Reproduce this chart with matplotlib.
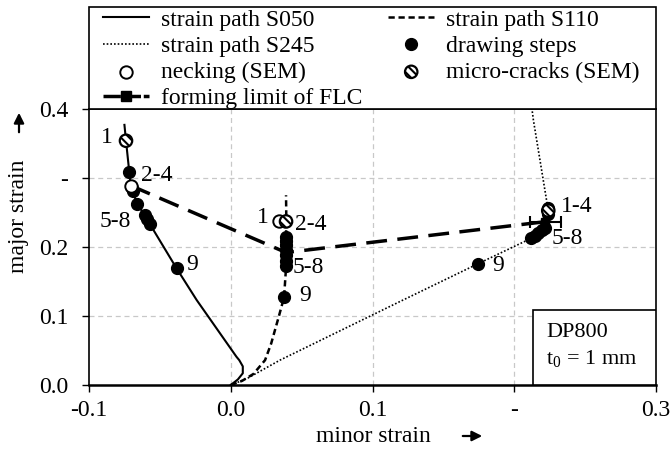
import numpy as np
import matplotlib
matplotlib.use('Agg')
import matplotlib.pyplot as plt
from matplotlib.patches import Rectangle
from matplotlib.lines import Line2D

plt.rcParams['font.family'] = ['Liberation Serif', 'DejaVu Serif']
plt.rcParams['hatch.linewidth'] = 1.5
plt.rcParams['mathtext.fontset'] = 'custom'
plt.rcParams['mathtext.rm'] = 'Liberation Serif'

# strain paths (minor, major)
s050_x = [0.0, 0.005, 0.0085, 0.0085, 0.006, 0.004, -0.024, -0.0382, -0.057, -0.0605, -0.066, -0.069, -0.0706, -0.0716, -0.0739, -0.075]
s050_y = [0.0, 0.008, 0.017, 0.027, 0.036, 0.041, 0.123, 0.169, 0.233, 0.246, 0.262, 0.280, 0.288, 0.309, 0.354, 0.377]
s110_x = [0.0, 0.008, 0.016, 0.0242, 0.0285, 0.0336, 0.0376, 0.039, 0.039, 0.0392, 0.039]
s110_y = [0.0, 0.006, 0.016, 0.036, 0.060, 0.097, 0.127, 0.170, 0.215, 0.240, 0.275]
s245_x = [0.0, 0.005, 0.012, 0.0347, 0.1194, 0.1747, 0.212, 0.224, 0.224, 0.2135, 0.2125]
s245_y = [0.0, 0.004, 0.010, 0.036, 0.121, 0.176, 0.2126, 0.232, 0.2527, 0.384, 0.400]

# drawing steps (filled)
steps_x = [-0.0382, -0.057, -0.059, -0.0605, -0.066, -0.069, -0.070, -0.0716,
           0.0376, 0.039, 0.039, 0.039, 0.039, 0.039, 0.039, 0.039,
           0.1747, 0.212, 0.2145, 0.217, 0.2195, 0.2217, 0.224, 0.224]
steps_y = [0.169, 0.234, 0.240, 0.246, 0.262, 0.281, 0.285, 0.309,
           0.127, 0.172, 0.180, 0.188, 0.196, 0.203, 0.208, 0.215,
           0.176, 0.2126, 0.216, 0.220, 0.224, 0.227, 0.248, 0.257]
# necking (SEM)
neck_x = [-0.0706, 0.034]
neck_y = [0.289, 0.237]
# micro-cracks (SEM)
crack_x = [-0.0739, 0.039, 0.224]
crack_y = [0.354, 0.237, 0.2527]
# forming limit
flc_x = [-0.0706, 0.039, 0.222]
flc_y = [0.289, 0.192, 0.2367]
flc_xerr = [0.0, 0.0, 0.011]

# step labels
lab_txt = ['1', '2-4', '5-8', '9', '1', '2-4', '5-8', '9', '1-4', '5-8', '9']
lab_x = [-0.0876, -0.0522, -0.0817, -0.0276, 0.023, 0.0566, 0.0547, 0.0524, 0.244, 0.2374, 0.1888]
lab_y = [0.358, 0.304, 0.237, 0.174, 0.243, 0.232, 0.171, 0.130, 0.259, 0.2126, 0.1725]

fs = 17
fig = plt.figure(figsize=(6.71, 4.54), dpi=100)
ax = fig.add_axes([89/671, 1-385/454, 567/671, 276/454])

l1, = ax.plot(s050_x, s050_y, color='black', lw=1.5, zorder=2)
l2, = ax.plot(s110_x, s110_y, color='black', lw=1.8, ls=(0, (2.5, 1.5)), zorder=2)
l3, = ax.plot(s245_x, s245_y, color='black', lw=1.2, ls=(0, (1, 1.2)), zorder=2)

ax.errorbar(flc_x, flc_y, xerr=flc_xerr, color='black', lw=2.5, ls=(0, (6, 3)),
            marker='s', ms=6, capsize=4, elinewidth=1.5, capthick=1.5, zorder=3)
l4 = Line2D([], [], color='black', lw=2.5, ls=(0, (5, 0.8)), marker='s', ms=7)

l5, = ax.plot(steps_x, steps_y, 'o', color='black', ms=8.5, ls='none', zorder=4)
l6 = ax.scatter(neck_x, neck_y, s=80, facecolor='white', edgecolor='black', lw=1.4, zorder=5)
l7 = ax.scatter(crack_x, crack_y, s=80, facecolor='white', edgecolor='black', lw=1.6,
                hatch='\\\\\\\\', zorder=6)

for t, x, y in zip(lab_txt, lab_x, lab_y):
    ax.text(x, y, t, fontsize=fs, ha='center', va='center', zorder=7)

ax.set_xlim(-0.1, 0.3)
ax.set_ylim(0.0, 0.4)
ax.set_xticks([-0.1, 0.0, 0.1, 0.2, 0.3])
ax.set_xticklabels(['-0.1', '0.0', '0.1', '-', '0.3'])
ax.set_yticks([0.0, 0.1, 0.2, 0.3, 0.4])
ax.set_yticklabels(['0.0', '0.1', '0.2', '-', '0.4'])
ax.tick_params(direction='out', length=5, width=1, labelsize=fs)
ax.tick_params(axis='x', pad=6)
ax.tick_params(axis='y', pad=10)
for g in [0.0, 0.1, 0.2]:
    ax.axvline(g, color='#c8c8c8', lw=0.9, ls=(0, (4, 3)), zorder=0)
for g in [0.1, 0.2, 0.3]:
    ax.axhline(g, color='#c8c8c8', lw=0.9, ls=(0, (4, 3)), zorder=0)
for sp in ax.spines.values():
    sp.set_color('black')
    sp.set_linewidth(1.2)
ax.spines['bottom'].set_linewidth(1.8)

# material box
ax.add_patch(Rectangle((0.783, 0.0), 0.217, 0.272, transform=ax.transAxes,
                       facecolor='white', edgecolor='black', lw=1.2, zorder=8))
ax.text(0.806, 0.19, 'DP800', transform=ax.transAxes, fontsize=16, va='center', zorder=9)
ax.text(0.806, 0.095, 't$_0$ = 1 mm', transform=ax.transAxes, fontsize=16, va='center', zorder=9)

# legend box above the plot
fig.patches.append(Rectangle((89/671, 1-109/454), 567/671, 102/454, transform=fig.transFigure,
                             facecolor='white', edgecolor='black', lw=1.2))
leg = fig.legend([l1, l3, l6, l4, l2, l5, l7],
                 ['strain path S050', 'strain path S245', 'necking (SEM)', 'forming limit of FLC',
                  'strain path S110', 'drawing steps', 'micro-cracks (SEM)'],
                 ncol=2, loc='upper left', bbox_to_anchor=(103/671, 1-9/454), frameon=False,
                 fontsize=fs, handlelength=1.95, handletextpad=0.5, columnspacing=1.1,
                 labelspacing=0.2, borderpad=0, borderaxespad=0)

fig.text(19/671, 1-216/454, 'major strain', rotation=90, fontsize=fs, ha='center', va='center')
fig.text(373/671, 1-436/454, 'minor strain', fontsize=fs, ha='center', va='center')
ax.annotate('', xy=(19/671, 1-110/454), xytext=(19/671, 1-135/454), xycoords='figure fraction',
            arrowprops=dict(arrowstyle='-|>', color='black', lw=1.6, mutation_scale=15))
ax.annotate('', xy=(485/671, 1-436/454), xytext=(460/671, 1-436/454), xycoords='figure fraction',
            arrowprops=dict(arrowstyle='-|>', color='black', lw=1.6, mutation_scale=15))

fig.savefig('out.png', dpi=100)
